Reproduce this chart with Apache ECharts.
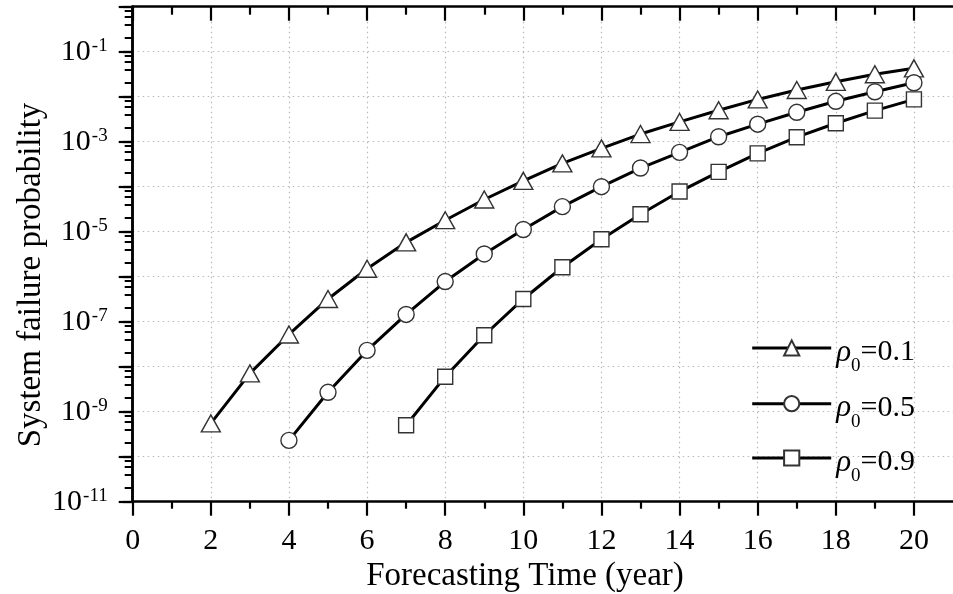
<!DOCTYPE html>
<html><head><meta charset="utf-8">
<script src="https://cdn.jsdelivr.net/npm/echarts@6/dist/echarts.min.js"></script>
<style>html,body{margin:0;padding:0;background:#fff}#c{width:953px;height:594px}</style>
</head><body><div id="c"></div>
<script>
// ---- data ----
const yearsA = [2,3,4,5,6,7,8,9,10,11,12,13,14,15,16,17,18,19,20];
const probA  = [5.5e-10,7.1e-9,5.2e-8,3.2e-7,1.5e-6,5.8e-6,1.8e-5,5.2e-5,1.35e-4,3.3e-4,7.1e-4,1.48e-3,2.75e-3,5.0e-3,8.7e-3,1.41e-2,2.14e-2,3.16e-2,4.27e-2];
const yearsB = [4,5,6,7,8,9,10,11,12,13,14,15,16,17,18,19,20];
const probB  = [2.3e-10,2.7e-9,2.3e-8,1.45e-7,7.8e-7,3.2e-6,1.12e-5,3.6e-5,1.0e-4,2.6e-4,5.8e-4,1.29e-3,2.45e-3,4.5e-3,7.9e-3,1.29e-2,2.04e-2];
const yearsC = [7,8,9,10,11,12,13,14,15,16,17,18,19,20];
const probC  = [5.0e-10,6.0e-9,5.0e-8,3.2e-7,1.62e-6,6.8e-6,2.45e-5,7.8e-5,2.14e-4,5.5e-4,1.26e-3,2.57e-3,4.9e-3,8.7e-3];
const seriesNames = ['ρ0=0.1','ρ0=0.5','ρ0=0.9'];
const seriesSymbols = ['triangle','circle','rect'];
const xMajorTicks = [0,2,4,6,8,10,12,14,16,18,20];
const xMinorTicks = [1,3,5,7,9,11,13,15,17,19];
const yDecades = [1e-11,1e-10,1e-9,1e-8,1e-7,1e-6,1e-5,1e-4,1e-3,1e-2,1e-1,1];
const yLabelValues = [1e-11,1e-9,1e-7,1e-5,1e-3,1e-1];
const yMinorMultipliers = [2,4,6,8];
const xTitle = 'Forecasting Time (year)';
const yTitle = 'System failure probability';

const FONT = '"Liberation Serif","Times New Roman",serif';
const yMinorTicks = [];
yDecades.slice(0, -1).forEach(d => yMinorMultipliers.forEach(k => yMinorTicks.push(+(d * k).toPrecision(3))));

const chart = echarts.init(document.getElementById('c'), null, {renderer: 'canvas'});
const axisLineStyle = {color: '#000', width: 2.5};
const gridLine = {show: true, lineStyle: {color: '#b8b8b8', width: 1.2, type: [1.5, 3.5]}};

const xBase = {type: 'value', min: 0, max: 21, interval: 2, gridIndex: 0};
const yBase = {type: 'log', logBase: 10, min: 1e-11, max: 1, gridIndex: 0};

function pairs(xs, ys) { return xs.map((x, i) => [x, ys[i]]); }
const allData = [pairs(yearsA, probA), pairs(yearsB, probB), pairs(yearsC, probC)];
const symbolSizes = [[19, 17], 16, 15];

const option = {
  animation: false,
  backgroundColor: '#fff',
  grid: {left: 132.7, top: 6.7, width: 824.9, height: 495, containLabel: false},
  xAxis: [
    Object.assign({}, xBase, {position: 'bottom',
      axisLine: {show: true, lineStyle: axisLineStyle},
      axisTick: {show: true, inside: false, length: 14, lineStyle: {color: '#000', width: 2.2}, customValues: xMajorTicks},
      axisLabel: {show: true, margin: 24, fontFamily: FONT, fontSize: 30, color: '#000', customValues: xMajorTicks},
      splitLine: gridLine}),
    Object.assign({}, xBase, {position: 'top',
      axisLine: {show: true, lineStyle: axisLineStyle},
      axisTick: {show: true, inside: true, length: 14, lineStyle: {color: '#000', width: 2.2}, customValues: xMajorTicks},
      axisLabel: {show: false}, splitLine: {show: false}}),
    Object.assign({}, xBase, {position: 'bottom',
      axisLine: {show: false},
      axisTick: {show: true, inside: false, length: 7, lineStyle: {color: '#000', width: 2.2}, customValues: xMinorTicks},
      axisLabel: {show: false}, splitLine: {show: false}}),
    Object.assign({}, xBase, {position: 'top',
      axisLine: {show: false},
      axisTick: {show: true, inside: true, length: 8, lineStyle: {color: '#000', width: 2.2}, customValues: xMinorTicks},
      axisLabel: {show: false}, splitLine: {show: false}})
  ],
  yAxis: [
    Object.assign({}, yBase, {position: 'left', interval: 1,
      axisLine: {show: true, lineStyle: axisLineStyle},
      axisTick: {show: true, inside: false, length: 14, lineStyle: {color: '#000', width: 2.2}, customValues: yDecades},
      axisLabel: {show: true, margin: 25, color: '#000', customValues: yLabelValues,
        formatter: v => '{b|10}{e|' + Math.round(Math.log10(v)) + '}',
        rich: {
          b: {fontFamily: FONT, fontSize: 30, lineHeight: 30, verticalAlign: 'bottom', padding: [0, 0, 0, 0], color: '#000'},
          e: {fontFamily: FONT, fontSize: 19, lineHeight: 19, verticalAlign: 'top', padding: [0, 0, 20, 1], color: '#000'}
        }},
      splitLine: gridLine}),
    Object.assign({}, yBase, {position: 'right',
      axisLine: {show: true, lineStyle: axisLineStyle},
      axisTick: {show: true, inside: true, length: 10, lineStyle: {color: '#000', width: 2.2}, customValues: yDecades},
      axisLabel: {show: false}, splitLine: {show: false}}),
    Object.assign({}, yBase, {position: 'left',
      axisLine: {show: false},
      axisTick: {show: true, inside: false, length: 8, lineStyle: {color: '#000', width: 2}, customValues: yMinorTicks},
      axisLabel: {show: false}, splitLine: {show: false}}),
    Object.assign({}, yBase, {position: 'right',
      axisLine: {show: false},
      axisTick: {show: true, inside: true, length: 6, lineStyle: {color: '#000', width: 2}, customValues: yMinorTicks},
      axisLabel: {show: false}, splitLine: {show: false}})
  ],
  legend: seriesNames.map((name, i) => ({
    data: [name],
    orient: 'vertical',
    left: 750.7,
    top: [333, 388.7, 443][i],
    padding: 0,
    itemWidth: 79,
    itemHeight: 19,
    selectedMode: false,
    lineStyle: {color: '#000', width: 3},
    formatter: n => '{r|ρ}{s|0}{t|=' + n.split('=')[1] + '}',
    textStyle: {
      rich: {
        r: {fontFamily: FONT, fontStyle: 'italic', fontSize: 31, lineHeight: 30, verticalAlign: 'top', padding: [4, 0, 0, 0], color: '#000'},
        s: {fontFamily: FONT, fontSize: 19, lineHeight: 19, verticalAlign: 'top', padding: [24, 0, 0, 0], color: '#000'},
        t: {fontFamily: FONT, fontSize: 30, lineHeight: 30, verticalAlign: 'top', padding: [4, 0, 0, 0], color: '#000'}
      }
    }
  })),
  graphic: [
    {type: 'text', x: 525, y: 576, style: {text: xTitle, font: '33px ' + FONT, fill: '#000', textAlign: 'center', textVerticalAlign: 'middle'}},
    {type: 'text', x: 31, y: 275, rotation: Math.PI / 2, style: {text: yTitle, font: '33px ' + FONT, fill: '#000', textAlign: 'center', textVerticalAlign: 'middle'}}
  ],
  series: seriesNames.map((name, i) => ({
    name: name,
    type: 'line',
    xAxisIndex: 0,
    yAxisIndex: 0,
    data: allData[i],
    symbol: seriesSymbols[i],
    symbolSize: symbolSizes[i],
    showAllSymbol: true,
    lineStyle: {color: '#000', width: 3},
    itemStyle: {color: '#fff', borderColor: '#333', borderWidth: 1.4},
    emphasis: {disabled: true},
    z: 3 + i
  }))
};
chart.setOption(option);
</script></body></html>
